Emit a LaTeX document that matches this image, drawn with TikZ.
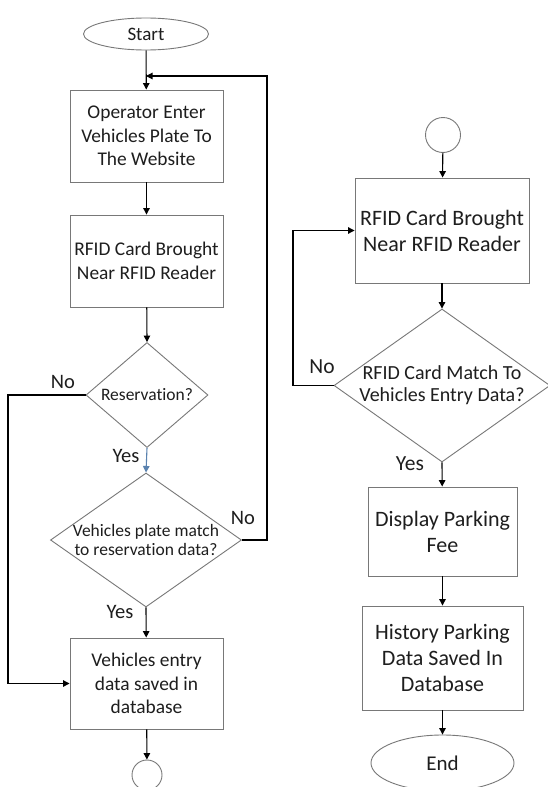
\documentclass[tikz,border=0pt]{standalone}
\usepackage{fontspec}
\setmainfont{Carlito}[Ligatures={NoCommon}]
\usetikzlibrary{shapes.geometric,arrows.meta}

\definecolor{edgegray}{RGB}{120,120,120}
\definecolor{inkgray}{RGB}{30,30,30}
\definecolor{yesblue}{RGB}{90,130,175}

\tikzset{
  base/.style={draw=edgegray, line width=0.9pt, text=inkgray, align=center, inner sep=0pt},
  leftfont/.style={font=\fontsize{19.4}{23.5}\selectfont},
  leftdia/.style={font=\fontsize{17.5}{18.5}\selectfont},
  rightfont/.style={font=\fontsize{22}{26}\selectfont},
  rightdia/.style={font=\fontsize{20}{22}\selectfont},
  procbox/.style={base, rectangle, minimum width=153, minimum height=92},
  terminal/.style={base, ellipse},
  decision/.style={base, diamond},
  connector/.style={base, circle},
  flow/.style={line width=1.1pt, black, -{Triangle[length=6.5pt,width=6.5pt]}},
  branch/.style={text=inkgray, inner sep=0pt},
}

\begin{document}
\begin{tikzpicture}[x=1pt,y=-1pt]
  \useasboundingbox (0,0) rectangle (547,787);
  \fill[white] (0,0) rectangle (547,787);

  % ---- left column ----
  \node[terminal, leftfont, font=\fontsize{19}{23}\selectfont, minimum width=125, minimum height=32] (start) at (146,34) {Start};
  \node[procbox, leftfont] (enter) at (146.5,136) {Operator Enter\\Vehicles Plate To\\The Website};
  \node[procbox, leftfont] (rfidA) at (146.5,261) {RFID Card Brought\\Near RFID Reader};
  \node[decision, minimum width=122, minimum height=105,
        label={[base, leftdia, draw=none]center:Reservation?}] (resv) at (147,395) {};
  \node[decision, minimum width=191, minimum height=134,
        label={[base, leftdia, draw=none]center:Vehicles plate match\\to reservation data?}] (plate) at (146,540) {};
  \node[procbox, leftfont, minimum height=91] (saved) at (146.5,683.5) {Vehicles entry\\data saved in\\database};
  \node[connector, minimum size=30] (offA) at (147,775) {};

  \coordinate (loopTop) at (267,76);
  \coordinate (leftRail) at (8,683.5);

  \draw[flow] (start) -- (enter);
  \draw[flow] (enter) -- (rfidA);
  \draw[flow] (rfidA) -- (resv.north);
  \draw[line width=1.1pt, yesblue, -{Triangle[length=6.5pt,width=6.5pt]}] (resv.south) -- (plate.north);
  \draw[flow] (plate.south) -- (saved);
  \draw[flow] (saved) -- (offA);
  \draw[flow] (resv.west) -| (leftRail) -- (saved.west);
  \draw[flow] (plate.east) -| (loopTop) -- (start.south |- loopTop);

  \node[branch, font=\fontsize{20.5}{22}\selectfont] (noA) at (63,382) {No};
  \node[branch, font=\fontsize{20.5}{22}\selectfont] (yesA) at (126,456) {Yes};
  \node[branch, font=\fontsize{20.5}{22}\selectfont] (noB) at (243,518) {No};
  \node[branch, font=\fontsize{20.5}{22}\selectfont] (yesB) at (120,612) {Yes};

  % ---- right column ----
  \node[connector, minimum size=35] (offB) at (443,135) {};
  \node[procbox, rightfont, minimum width=174, minimum height=105] (rfidB) at (442,230.5) {RFID Card Brought\\Near RFID Reader};
  \node[decision, minimum width=216, minimum height=153,
        label={[base, rightdia, draw=none]center:RFID Card Match To\\Vehicles Entry Data?}] (match) at (442,385.5) {};
  \node[procbox, rightfont, minimum width=149, minimum height=89] (fee) at (442.5,531.5) {Display Parking\\Fee};
  \node[procbox, rightfont, minimum width=161, minimum height=104] (history) at (442.5,658) {History Parking\\Data Saved In\\Database};
  \node[terminal, font=\fontsize{21}{24}\selectfont, minimum width=143, minimum height=56] (stop) at (442.5,763) {End};

  \coordinate (rightRail) at (293,230.5);

  \draw[flow] (offB) -- (rfidB);
  \draw[flow] (rfidB) -- (match.north);
  \draw[flow] (match.south) -- (fee);
  \draw[flow] (fee) -- (history);
  \draw[flow] (history) -- (stop);
  \draw[flow] (match.west) -| (rightRail) -- (rfidB.west);

  \node[branch, font=\fontsize{21.5}{24}\selectfont] (noC) at (322,367) {No};
  \node[branch, font=\fontsize{21.5}{24}\selectfont] (yesC) at (410,464) {Yes};
\end{tikzpicture}
\end{document}
